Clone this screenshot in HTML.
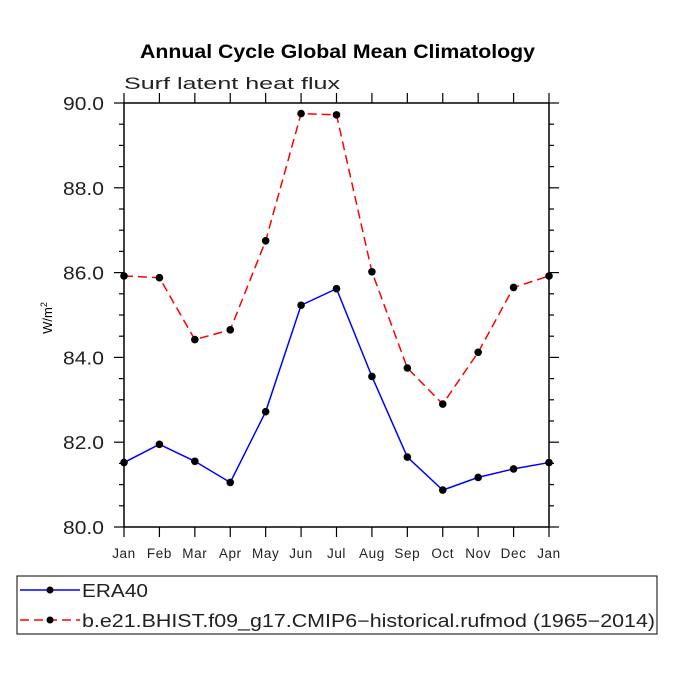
<!DOCTYPE html>
<html><head><meta charset="utf-8"><style>
body{margin:0;background:#fff}
svg text{font-family:"Liberation Sans",sans-serif}
</style></head><body>
<svg width="675" height="675" viewBox="0 0 675 675">
<rect width="675" height="675" fill="#fff"/>
<text x="140" y="58" textLength="395" lengthAdjust="spacingAndGlyphs" font-size="19" font-weight="bold">Annual Cycle Global Mean Climatology</text>
<text x="124" y="89" textLength="216" lengthAdjust="spacingAndGlyphs" font-size="17" fill="#222">Surf latent heat flux</text>
<text transform="translate(52,318) rotate(-90)" text-anchor="middle" font-size="13">W/m<tspan dy="-5" font-size="9">2</tspan></text>
<g id="axes"></g>
<g id="series"></g>
<rect x="17" y="576" width="640" height="58" fill="none" stroke="#000" stroke-width="1"/>
<g>
<line x1="20" y1="590" x2="80" y2="590" stroke="#00f" stroke-width="1.5"/><circle cx="50" cy="590" r="3.5"/>
<text x="82" y="597" textLength="66" lengthAdjust="spacingAndGlyphs" font-size="18" fill="#222">ERA40</text></g>
<g>
<line x1="20" y1="620" x2="80" y2="620" stroke="#f00" stroke-width="1.5" stroke-dasharray="9,5"/><circle cx="50" cy="620" r="3.5"/>
<text x="82" y="627" textLength="573" lengthAdjust="spacingAndGlyphs" font-size="18" fill="#222">b.e21.BHIST.f09_g17.CMIP6−historical.rufmod (1965−2014)</text></g>
</svg>
<script>
const months=["Jan","Feb","Mar","Apr","May","Jun","Jul","Aug","Sep","Oct","Nov","Dec","Jan"];
const era40=[81.52,81.95,81.55,81.05,82.72,85.23,85.62,83.55,81.65,80.87,81.17,81.37,81.52];
const model=[85.92,85.88,84.42,84.65,86.75,89.75,89.72,86.02,83.75,82.90,84.12,85.65,85.92];
const yTicks=[80,82,84,86,88,90];
const X0=124,X1=549,Y0=527,Y1=103,YMIN=80,YMAX=90;
const xs=i=>X0+(X1-X0)*i/(months.length-1);
const ys=v=>Y0-(v-YMIN)/(YMAX-YMIN)*(Y0-Y1);
const NS="http://www.w3.org/2000/svg";
function mk(t,a,p){const e=document.createElementNS(NS,t);for(const k in a)e.setAttribute(k,a[k]);p.appendChild(e);return e;}
const ax=document.getElementById('axes');
const frame=mk('rect',{x:X0,y:Y1,width:X1-X0,height:Y0-Y1,fill:'none',stroke:'#000','stroke-width':1.5},ax);


months.forEach((m,i)=>{const x=xs(i);
mk('line',{x1:x,y1:Y0,x2:x,y2:Y0+10,stroke:'#000','stroke-width':1.2},ax);
mk('line',{x1:x,y1:Y1,x2:x,y2:Y1-10,stroke:'#000','stroke-width':1.2},ax);
const t=mk('text',{x:x,y:Y0+31,'text-anchor':'middle','font-size':13.5,fill:'#222','letter-spacing':0.6},ax);t.textContent=m;

});
for(let v=YMIN;v<=YMAX+1e-9;v+=0.5){const y=ys(v);const major=Math.abs(v/2-Math.round(v/2))<1e-9;const L=major?10:5;
mk('line',{x1:X0,y1:y,x2:X0-L,y2:y,stroke:'#000','stroke-width':1.2},ax);
mk('line',{x1:X1,y1:y,x2:X1+L,y2:y,stroke:'#000','stroke-width':1.2},ax);}
yTicks.forEach(v=>{const t=mk('text',{x:63,y:ys(v)+7,textLength:41,lengthAdjust:'spacingAndGlyphs','font-size':18,fill:'#222'},ax);t.textContent=v.toFixed(1);

});
const sg=document.getElementById('series');
function draw(vals,color,dash,name){
const pts=vals.map((v,i)=>xs(i)+','+ys(v)).join(' ');
const pl=mk('polyline',{points:pts,fill:'none',stroke:color,'stroke-width':1.5,'stroke-dasharray':dash},sg);


vals.forEach((v,i)=>{const c=mk('circle',{cx:xs(i),cy:ys(v),r:3.8,fill:'#000'},sg);

});}
draw(era40,'#00f','none','era40');
draw(model,'#f00','9,5','model');
</script>
</body></html>
